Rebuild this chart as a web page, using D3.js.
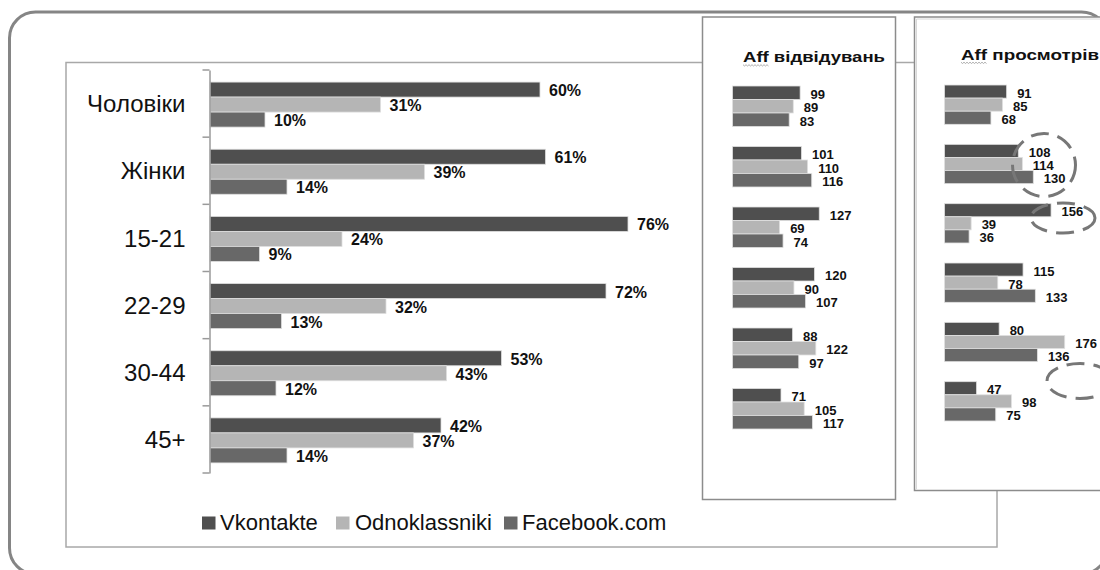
<!DOCTYPE html>
<html>
<head>
<meta charset="utf-8">
<script src="https://cdn.jsdelivr.net/npm/d3@7/dist/d3.min.js"></script>
<style>
  html, body { margin: 0; padding: 0; background: #fff; }
  svg { display: block; font-family: "Liberation Sans", Arial, sans-serif; }
</style>
</head>
<body>
<svg id="chart" width="1100" height="570"></svg>
<script>
// ---- data ----
const categories = ["Чоловіки", "Жінки", "15-21", "22-29", "30-44", "45+"];
const series = ["Vkontakte", "Odnoklassniki", "Facebook.com"];
const vkontakte = [60, 61, 76, 72, 53, 42];
const odnoklassniki = [31, 39, 24, 32, 43, 37];
const facebook = [10, 14, 9, 13, 12, 14];

const affVisitsTitle = "Aff відвідувань";
const affVisitsVk = [99, 101, 127, 120, 88, 71];
const affVisitsOd = [89, 110, 69, 90, 122, 105];
const affVisitsFb = [83, 116, 74, 107, 97, 117];

const affViewsTitle = "Aff просмотрів";
const affViewsVk = [91, 108, 156, 115, 80, 47];
const affViewsOd = [85, 114, 39, 78, 176, 98];
const affViewsFb = [68, 130, 36, 133, 136, 75];

const colors = ["#4f4f4f", "#b5b5b5", "#686868"];

// ---- setup ----
const svg = d3.select("#chart");
const color = d3.scaleOrdinal().domain(series).range(colors);

// outer rounded frame
svg.append("rect")
  .attr("x", 9.5).attr("y", 12).attr("width", 1098).attr("height", 562)
  .attr("rx", 26).attr("ry", 26)
  .attr("fill", "none").attr("stroke", "#858585").attr("stroke-width", 3);

// main chart box
svg.append("rect")
  .attr("x", 66).attr("y", 62.5).attr("width", 931).attr("height", 484.5)
  .attr("fill", "#fff").attr("stroke", "#a8a8a8").attr("stroke-width", 1.5);

// ---- main chart ----
const x = d3.scaleLinear().domain([0, 100]).range([210, 760]);
const y = d3.scaleBand().domain(categories).range([70, 473]);
const groupH = 45;
const ySub = d3.scaleBand().domain(series).range([0, groupH]);
const mainRows = categories.map((c, i) => ({
  cat: c,
  vals: [vkontakte[i], odnoklassniki[i], facebook[i]]
}));

const gMain = svg.append("g");
const rows = gMain.selectAll("g.row").data(mainRows).join("g")
  .attr("transform", d => `translate(0,${y(d.cat) + (y.bandwidth() - groupH) / 2 + 1})`);

rows.selectAll("rect").data(d => d.vals.map((v, j) => ({ s: series[j], v })))
  .join("rect")
  .attr("x", x(0))
  .attr("y", d => ySub(d.s))
  .attr("width", d => x(d.v) - x(0))
  .attr("height", ySub.bandwidth())
  .attr("fill", d => color(d.s))
  .attr("stroke", "#dedede").attr("stroke-width", 0.8);

rows.selectAll("text").data(d => d.vals.map((v, j) => ({ s: series[j], v })))
  .join("text")
  .attr("x", d => x(d.v) + 9)
  .attr("y", d => ySub(d.s) + ySub.bandwidth() / 2 + 1)
  .attr("dominant-baseline", "central")
  .attr("font-size", 16).attr("font-weight", "bold").attr("fill", "#111")
  .text(d => d.v + "%");

// axis
const axis = d3.axisLeft(y).tickSize(0).tickPadding(24);
const gAxis = gMain.append("g").attr("transform", "translate(209.5,0)").call(axis);
gAxis.select(".domain").attr("stroke", "#9a9a9a").attr("stroke-width", 1.5);
gAxis.selectAll(".tick text")
  .attr("font-size", 24).attr("fill", "#111").attr("dy", "0.36em")
  .attr("font-family", "Liberation Sans, Arial, sans-serif");
// boundary ticks
const bounds = categories.map(c => y(c)).concat([y.range()[1]]);
gAxis.selectAll("line.bound").data(bounds).join("line")
  .attr("class", "bound")
  .attr("x1", -7).attr("x2", 0)
  .attr("y1", d => d).attr("y2", d => d)
  .attr("stroke", "#9a9a9a").attr("stroke-width", 1.5);

// legend
const legendPos = [{ sx: 202, tx: 220 }, { sx: 336, tx: 355 }, { sx: 504, tx: 522 }];
const gLeg = svg.append("g");
series.forEach((s, i) => {
  gLeg.append("rect").attr("x", legendPos[i].sx).attr("y", 516.5)
    .attr("width", 13.5).attr("height", 13).attr("fill", color(s));
  gLeg.append("text").attr("x", legendPos[i].tx).attr("y", 530)
    .attr("font-size", 22).attr("fill", "#111").text(s);
});

// ---- side panels ----
const xAff = d3.scaleLinear().domain([0, 200]).range([0, 136.6]);

function panel(opts) {
  const g = svg.append("g");
  g.append("rect")
    .attr("x", opts.px).attr("y", 17).attr("width", opts.pw).attr("height", opts.ph)
    .attr("fill", "#fff").attr("stroke", "#8c8c8c").attr("stroke-width", 1.5);
  if (opts.shadow) {
    g.append("path")
      .attr("d", `M${opts.px + 2},${17 + opts.ph - 1} V19 H${opts.px + opts.pw}`)
      .attr("fill", "none").attr("stroke", "#d8d8d8").attr("stroke-width", 1);
  }
  g.append("text")
    .attr("x", opts.tx).attr("y", opts.ty)
    .attr("font-size", 15).attr("font-weight", "bold").attr("fill", "#111")
    .attr("textLength", opts.tl).attr("lengthAdjust", "spacingAndGlyphs")
    .text(opts.title);
  // spell-check style wavy underline under "Aff"
  const wave = d3.range(0, 27, 1.5).map((d, i) => [opts.tx + d, opts.ty + 3 + (i % 2 ? 1 : -0.3)]);
  g.append("path").attr("d", d3.line()(wave))
    .attr("fill", "none").attr("stroke", "#9a9a9a").attr("stroke-width", 0.8);

  const yb = d3.scaleBand().domain(categories).range(opts.yr);
  const gh = opts.gh;
  const ys = d3.scaleBand().domain(series).range([0, gh]);
  const data = categories.map((c, i) => ({ cat: c, vals: [opts.vk[i], opts.od[i], opts.fb[i]] }));
  const grp = g.selectAll("g.grp").data(data).join("g")
    .attr("transform", d => `translate(${opts.bx},${yb(d.cat) + (yb.bandwidth() - gh) / 2})`);
  grp.selectAll("rect").data(d => d.vals.map((v, j) => ({ s: series[j], v })))
    .join("rect")
    .attr("x", 0).attr("y", d => ys(d.s))
    .attr("width", d => xAff(d.v)).attr("height", ys.bandwidth())
    .attr("fill", d => color(d.s))
    .attr("stroke", "#e0e0e0").attr("stroke-width", 0.8);
  grp.selectAll("text").data(d => d.vals.map((v, j) => ({ s: series[j], v })))
    .join("text")
    .attr("x", d => xAff(d.v) + 10.5)
    .attr("y", d => ys(d.s) + ys.bandwidth() / 2 + 1.5)
    .attr("dominant-baseline", "central")
    .attr("font-size", 13).attr("font-weight", "bold").attr("fill", "#111")
    .text(d => d.v);
  return g;
}

panel({
  px: 702.5, pw: 193, ph: 482.5, tx: 743, ty: 62, tl: 142, title: affVisitsTitle,
  bx: 732.5, yr: [76, 439], gh: 40.5,
  vk: affVisitsVk, od: affVisitsOd, fb: affVisitsFb
});
const p2 = panel({
  px: 914.5, pw: 200, ph: 473.5, tx: 961, ty: 59.5, tl: 138, title: affViewsTitle, shadow: true,
  bx: 944.5, yr: [75, 431], gh: 39.3,
  vk: affViewsVk, od: affViewsOd, fb: affViewsFb
});

// dashed annotation ellipses
const ellipses = [
  { cx: 1044, cy: 165, rx: 31.5, ry: 31.5 },
  { cx: 1063, cy: 218, rx: 32, ry: 15 },
  { cx: 1080, cy: 381, rx: 33, ry: 17.5 }
];
p2.selectAll("ellipse").data(ellipses).join("ellipse")
  .attr("cx", d => d.cx).attr("cy", d => d.cy)
  .attr("rx", d => d.rx).attr("ry", d => d.ry)
  .attr("fill", "none").attr("stroke", "#777").attr("stroke-width", 3)
  .attr("stroke-dasharray", "18,9");
</script>
</body>
</html>
